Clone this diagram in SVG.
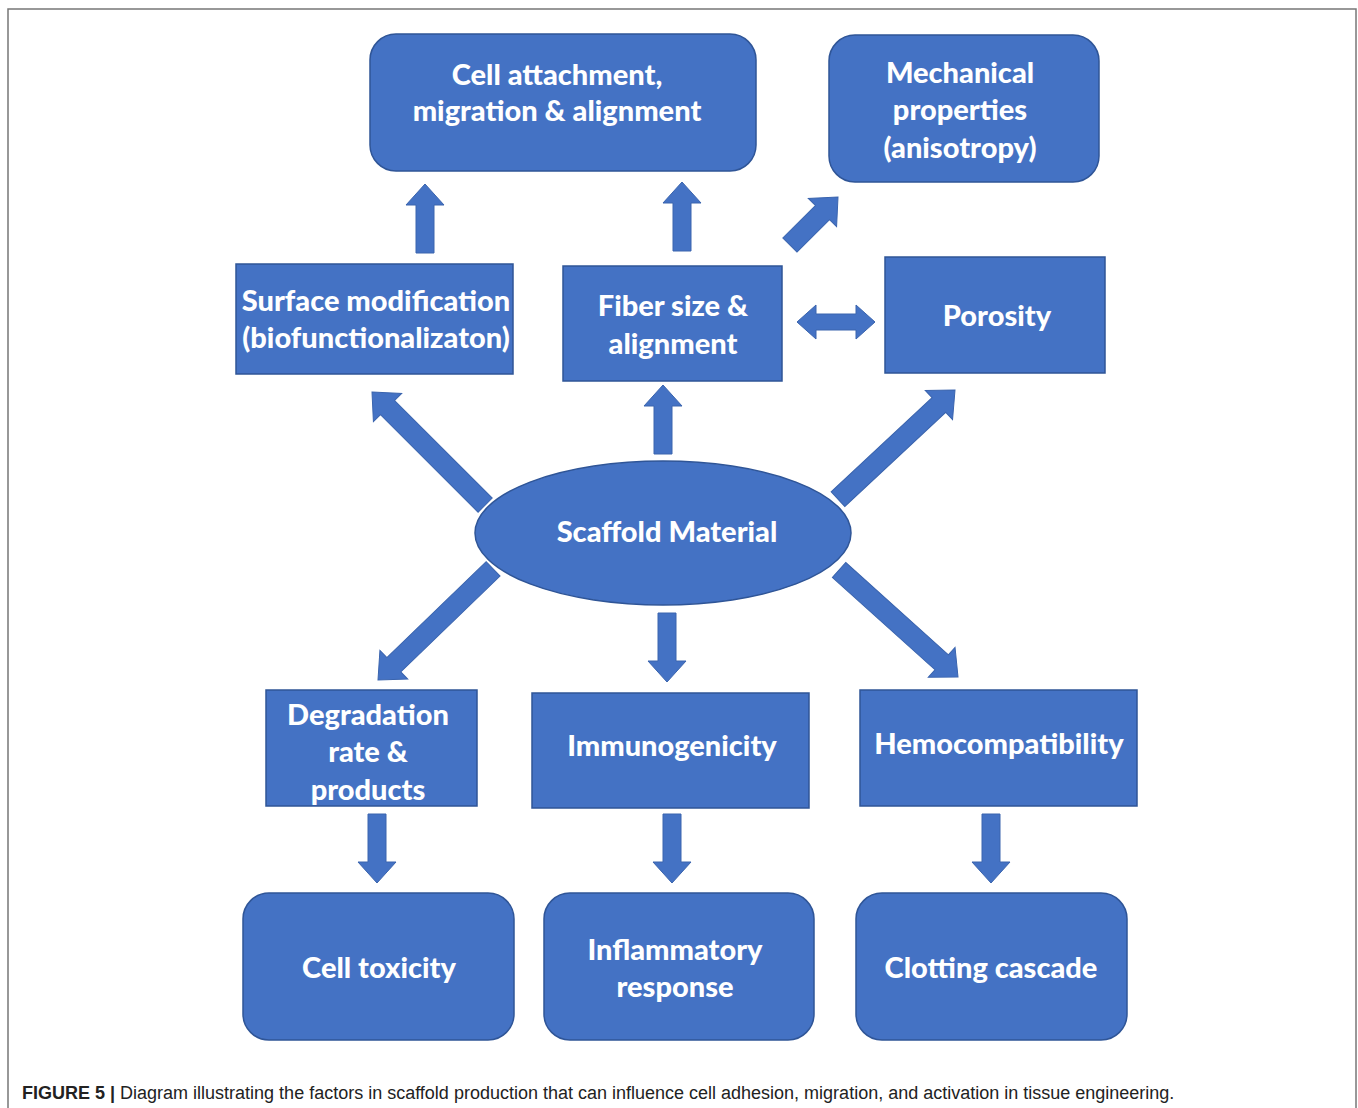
<svg xmlns="http://www.w3.org/2000/svg" width="1358" height="1108" viewBox="0 0 1358 1108">
<style>
.n{fill:#4472C4;stroke:#2F5597;stroke-width:1.5}
.t{fill:#fff;font-family:Lato,"Open Sans",sans-serif;font-weight:900;font-size:29px;text-anchor:middle}
.a{fill:#4472C4;stroke:#3A64AE;stroke-width:1}
.cap{font-family:"Liberation Sans",Arial,sans-serif;font-size:18px;fill:#222}
</style>
<defs>
<path id="aS" d="M0,0 L19,21 L9,21 L9,69 L-9,69 L-9,21 L-19,21 Z"/>
<path id="aM" d="M0,0 L20,22 L10,22 L10,68 L-10,68 L-10,22 L-20,22 Z"/>
<path id="aL" d="M0,0 L20,22 L10,22 L10,160 L-10,160 L-10,22 L-20,22 Z"/>
</defs>
<rect x="8" y="9" width="1348" height="1120" fill="none" stroke="#777" stroke-width="1.5"/>

<g id="connectors">
<use href="#aS" class="a" transform="translate(425,184)"/>
<use href="#aS" class="a" transform="translate(682,182)"/>
<use href="#aM" class="a" transform="translate(838,197) rotate(45)"/>
<path class="a" d="M797,322 L816,305 L816,314 L856,314 L856,305 L875,322 L856,339 L856,330 L816,330 L816,339 Z"/>
<use href="#aS" class="a" transform="translate(663,385)"/>
<use href="#aL" class="a" transform="translate(372,392) rotate(-45)"/>
<use href="#aL" class="a" transform="translate(955,390) rotate(47)"/>
<use href="#aL" class="a" transform="translate(378,680) rotate(-134)"/>
<use href="#aS" class="a" transform="translate(667,682) rotate(180)"/>
<use href="#aL" class="a" transform="translate(958,677) rotate(132)"/>
<use href="#aS" class="a" transform="translate(377,883) rotate(180)"/>
<use href="#aS" class="a" transform="translate(672,883) rotate(180)"/>
<use href="#aS" class="a" transform="translate(991,883) rotate(180)"/>
</g>

<g id="cell-attachment">
<rect class="n" x="370" y="34" width="386" height="137" rx="26"/>
<text class="t" x="557" y="85">Cell attachment,</text>
<text class="t" x="557" y="121">migration &amp; alignment</text>
</g>
<g id="mechanical">
<rect class="n" x="829" y="35" width="270" height="147" rx="26"/>
<text class="t" x="960" y="83">Mechanical</text>
<text class="t" x="960" y="120">properties</text>
<text class="t" x="960" y="158">(anisotropy)</text>
</g>
<g id="surface">
<rect class="n" x="236" y="264" width="277" height="110"/>
<text class="t" x="376" y="311">Surface modification</text>
<text class="t" x="376" y="348">(biofunctionalizaton)</text>
</g>
<g id="fiber">
<rect class="n" x="563" y="266" width="219" height="115"/>
<text class="t" x="673" y="316">Fiber size &amp;</text>
<text class="t" x="673" y="354">alignment</text>
</g>
<g id="porosity">
<rect class="n" x="885" y="257" width="220" height="116"/>
<text class="t" x="997" y="326">Porosity</text>
</g>
<g id="scaffold">
<ellipse class="n" cx="663" cy="533" rx="188" ry="72"/>
<text class="t" x="667" y="542">Scaffold Material</text>
</g>
<g id="degradation">
<rect class="n" x="266" y="690" width="211" height="116"/>
<text class="t" x="368" y="725">Degradation</text>
<text class="t" x="368" y="762">rate &amp;</text>
<text class="t" x="368" y="800">products</text>
</g>
<g id="immunogenicity">
<rect class="n" x="532" y="693" width="277" height="115"/>
<text class="t" x="672" y="756">Immunogenicity</text>
</g>
<g id="hemocompatibility">
<rect class="n" x="860" y="690" width="277" height="116"/>
<text class="t" x="999" y="754">Hemocompatibility</text>
</g>
<g id="cell-toxicity">
<rect class="n" x="243" y="893" width="271" height="147" rx="26"/>
<text class="t" x="379" y="978">Cell toxicity</text>
</g>
<g id="inflammatory">
<rect class="n" x="544" y="893" width="270" height="147" rx="26"/>
<text class="t" x="675" y="960">Inflammatory</text>
<text class="t" x="675" y="997">response</text>
</g>
<g id="clotting">
<rect class="n" x="856" y="893" width="271" height="147" rx="26"/>
<text class="t" x="991" y="978">Clotting cascade</text>
</g>

<text class="cap" x="22" y="1099"><tspan font-weight="700">FIGURE 5 |</tspan> Diagram illustrating the factors in scaffold production that can influence cell adhesion, migration, and activation in tissue engineering.</text>
</svg>
